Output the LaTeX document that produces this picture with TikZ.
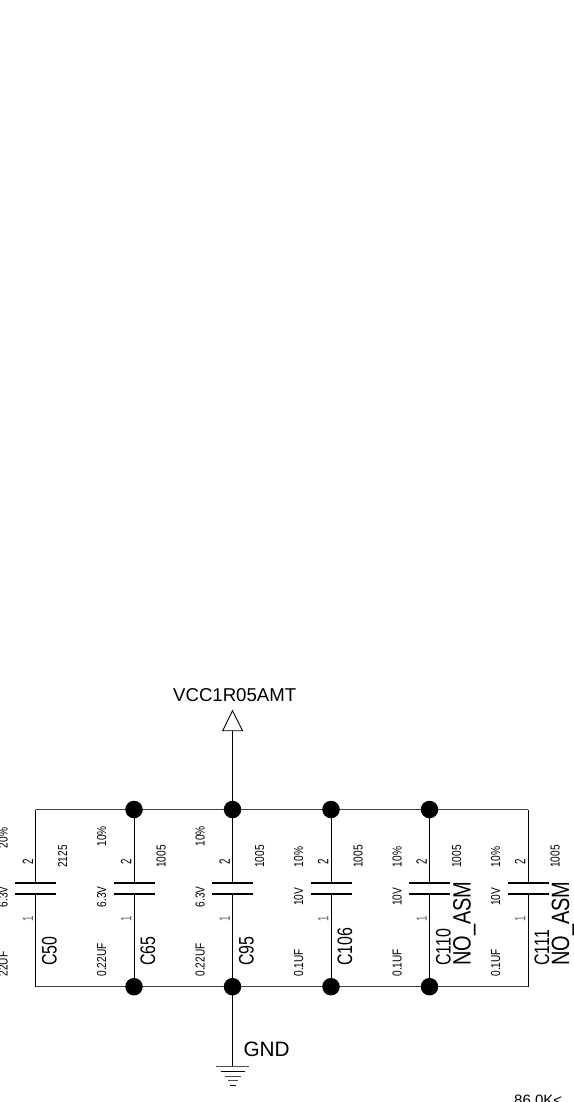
\documentclass[tikz,border=0pt]{standalone}
\usepackage{fontspec}
\setmainfont{Liberation Sans}
\newcommand{\squeezed}[2]{\scalebox{#1}[1]{#2}}
\tikzset{
  x=1pt,y=-1pt,
  wire/.style={draw=black,line width=0.9pt},
  plate/.style={draw=black,line width=2pt},
  gbar/.style={draw=black!70,line width=0.9pt},
  junction/.style={circle,fill=black,draw=none,minimum size=17.5pt,inner sep=0pt},
  txt/.style={inner sep=0pt,anchor=base west},
  tiny/.style={txt,rotate=90,font=\fontsize{13}{13}\selectfont},
  pin/.style={txt,rotate=90,font=\fontsize{15}{15}\selectfont},
  refdes/.style={txt,rotate=90,font=\fontsize{21}{21}\selectfont},
  asm/.style={txt,rotate=90,font=\fontsize{25}{25}\selectfont},
  net/.style={txt,font=\fontsize{18.6}{18.6}\selectfont},
}
\newcommand{\capcell}[9]{%
  % #1 name, #2 x, #3 ref, #4 tol, #5 tol y, #6 volt, #7 volt y, #8 value, #9 size
  \coordinate (#1t) at (#2,809.5);
  \coordinate (#1b) at (#2,986.7);
  \coordinate (#1p) at (#2,882.7);
  \coordinate (#1q) at (#2,894);
  \draw[wire] (#1t) -- (#1p);
  \draw[wire] (#1q) -- (#1b);
  \draw[plate] ([xshift=-20.5pt]#1p) -- ([xshift=20.5pt]#1p);
  \draw[plate] ([xshift=-20.5pt]#1q) -- ([xshift=20.5pt]#1q);
  \node[tiny] (#1tol) at ([xshift=-28pt]#2,#5) {\squeezed{.78}{#4}};
  \node[tiny] (#1volt) at ([xshift=-28pt]#2,#7) {\squeezed{.78}{#6}};
  \node[tiny] (#1val) at ([xshift=-28pt]#2,976.7) {\squeezed{.78}{#8}};
  \node[tiny] (#1size) at ([xshift=31.5pt]#2,868) {\squeezed{.78}{#9}};
  \node[pin] (#1two) at ([xshift=-2.7pt]#2,865) {\squeezed{.65}{2}};
  \node[pin,black!60] (#1one) at ([xshift=-2.7pt]#2,921.7) {\squeezed{.65}{1}};
  \node[refdes] (#1ref) at ([xshift=21pt]#2,966) {\squeezed{.76}{#3}};
}
\begin{document}
\begin{tikzpicture}
\useasboundingbox (0,0) rectangle (573,1102);
\clip (0,0) rectangle (573,1102);
\capcell{a}{35.7}{C50}{20\%}{848.3}{6.3V}{907.3}{22UF}{2125}
\capcell{b}{134}{C65}{10\%}{846.7}{6.3V}{907.3}{0.22UF}{1005}
\capcell{c}{232.5}{C95}{10\%}{846.7}{6.3V}{907.3}{0.22UF}{1005}
\capcell{d}{331}{C106}{10\%}{867.3}{10V}{906}{0.1UF}{1005}
\capcell{e}{429.5}{C110}{10\%}{867.3}{10V}{906}{0.1UF}{1005}
\capcell{f}{528}{C111}{10\%}{867.3}{10V}{906}{0.1UF}{1005}
\draw[wire,black!75] (at) -- (ft);
\draw[wire,black!75] (ab) -- (fb);
\foreach \n in {b,c,d,e}{
  \node[junction] (\n jt) at (\n t) {};
  \node[junction] (\n jb) at (\n b) {};
}
\node[asm] (easm) at (470.7,966) {\squeezed{.8}{NO\_ASM}};
\node[asm] (fasm) at (569.2,966) {\squeezed{.8}{NO\_ASM}};
% supply
\coordinate (vt) at (232.5,730.7);
\draw[wire] (vt) -- (ct);
\draw[wire,line join=miter] (222.7,730.7) -- (232.5,710.7) -- (242.5,730.7) -- cycle;
\node[net] (vcc) at (173,701.7) {VCC1R05AMT};
% ground
\coordinate (g0) at (232.5,1066.7);
\draw[wire] (cb) -- (g0);
\draw[gbar] (216,1066.7) -- (249.3,1066.7);
\draw[gbar,black] (220.7,1071.7) -- (245,1071.7);
\draw[gbar] (225,1076) -- (240.7,1076);
\draw[gbar] (227.7,1080.7) -- (238.3,1080.7);
\draw[gbar,black] (230,1085.7) -- (235.7,1085.7);
\node[net,font=\fontsize{20.8}{20.8}\selectfont] (gnd) at (243.3,1056) {GND};
\node[net,font=\fontsize{15}{15}\selectfont] (res) at (514,1105) {86.0K<};
\end{tikzpicture}
\end{document}
